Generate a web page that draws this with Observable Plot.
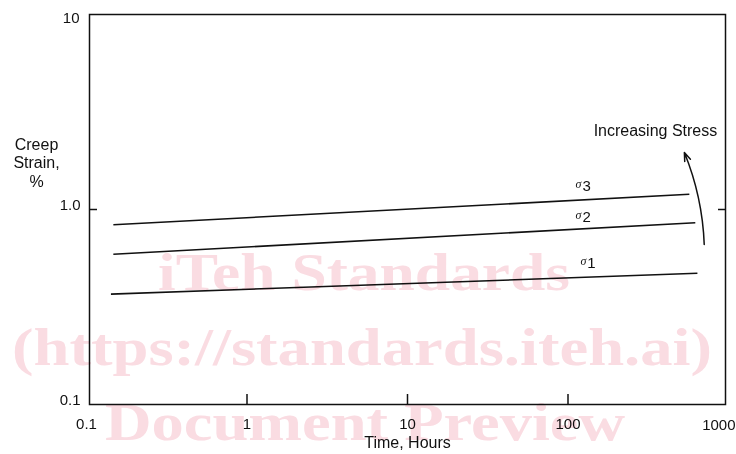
<!DOCTYPE html>
<html>
<head>
<meta charset="utf-8">
<script src="https://cdn.jsdelivr.net/npm/d3@7"></script>
<script src="https://cdn.jsdelivr.net/npm/@observablehq/plot@0.6"></script>
<style>
  html, body { margin: 0; padding: 0; background: #fff; }
  #wrap { position: relative; width: 736px; height: 454px; }
  #wrap svg { display: block; }
  #wm { position: absolute; left: 0; top: 0; pointer-events: none; mix-blend-mode: multiply; }
</style>
</head>
<body>
<div id="wrap"></div>
<script>
// ---- data ----
const seriesNames = ["σ1", "σ2", "σ3"];
const startTime = [0.142, 0.147, 0.147];      // hours
const endTime = [640, 621, 570];              // hours
const startStrain = [0.368, 0.590, 0.835];    // %
const endStrain = [0.471, 0.855, 1.198];      // %
const labelDigits = ["1", "2", "3"];
const labelTime = [132, 123, 123];
const labelStrain = [0.529, 0.91, 1.31];

const xTicks = [0.1, 1, 10, 100, 1000];
const xTickLabels = ["0.1", "1", "10", "100", "1000"];
const xInnerTicks = [1, 10, 100];
const yTicks = [0.1, 1, 10];
const yTickLabels = ["0.1", "1.0", "10"];
const yInnerTicks = [1];

const arrowTime = [706, 531];       // from, to
const arrowStrain = [0.662, 1.96];  // from, to
const noteText = ["Increasing Stress"];
const noteTime = [851];
const noteStrain = [2.54];

const xTitle = "Time, Hours";
const yTitle = "Creep\nStrain,\n%";

// ---- build tables ----
const segments = seriesNames.map((s, i) => ({
  series: s, x1: startTime[i], y1: startStrain[i], x2: endTime[i], y2: endStrain[i]
}));
const labels = seriesNames.map((s, i) => ({ digit: labelDigits[i], x: labelTime[i], y: labelStrain[i] }));
const arrows = [{ x1: arrowTime[0], y1: arrowStrain[0], x2: arrowTime[1], y2: arrowStrain[1] }];
const notes = noteText.map((t, i) => ({ t, x: noteTime[i], y: noteStrain[i] }));

const xFmt = d => xTickLabels[xTicks.indexOf(d)];
const yFmt = d => yTickLabels[yTicks.indexOf(d)];
const blank = () => "";
const ink = "#111";
const font = "'Liberation Sans', Arial, Helvetica, sans-serif";

const chart = Plot.plot({
  width: 736,
  height: 454,
  marginLeft: 86,
  marginRight: 8,
  marginTop: 14,
  marginBottom: 50,
  style: { fontFamily: font, fontSize: "15px", color: ink, background: "transparent" },
  x: { type: "log", domain: [0.1, 1000], label: null },
  y: { type: "log", domain: [0.1, 10], label: null },
  marks: [
    Plot.frame({ insetLeft: 3, insetRight: 3, stroke: ink, strokeWidth: 1.5 }),
    // tick labels
    Plot.axisX({ ticks: xTicks.slice(0, 4), tickFormat: xFmt, tickSize: 0, tickPadding: 14, fontSize: 15, label: null }),
    Plot.axisX({ ticks: xTicks.slice(4), tickFormat: xFmt, tickSize: 0, tickPadding: 15, fontSize: 15, textAnchor: "end", dx: 7, label: null }),
    Plot.axisY({ ticks: yTicks.slice(0, 2), tickFormat: yFmt, tickSize: 0, tickPadding: 6, dy: -4, fontSize: 15, label: null }),
    Plot.axisY({ ticks: yTicks.slice(2), tickFormat: yFmt, tickSize: 0, tickPadding: 7, dy: 4, fontSize: 15, label: null }),
    // inward ticks
    Plot.axisX({ ticks: xInnerTicks, tickFormat: blank, tickSize: -10, strokeWidth: 1.5, label: null }),
    Plot.axisY({ ticks: yInnerTicks, tickFormat: blank, tickSize: -8, dx: 3, strokeWidth: 1.5, label: null }),
    Plot.axisY({ anchor: "right", ticks: yInnerTicks, tickFormat: blank, tickSize: -8, dx: -3, strokeWidth: 1.5, label: null }),
    // creep curves
    Plot.link(segments, { x1: "x1", y1: "y1", x2: "x2", y2: "y2", stroke: ink, strokeWidth: 1.6 }),
    // sigma labels
    Plot.text(labels, { x: "x", y: "y", text: () => "σ", textAnchor: "end", dx: -1, dy: -2, fontSize: 12, fontStyle: "italic", fill: ink, fontFamily: "'Liberation Serif', serif" }),
    Plot.text(labels, { x: "x", y: "y", text: "digit", textAnchor: "start", fontSize: 15, fill: ink }),
    // increasing stress arrow + note
    Plot.arrow(arrows, { x1: "x1", y1: "y1", x2: "x2", y2: "y2", bend: -10, headLength: 9, headAngle: 40, stroke: ink, strokeWidth: 1.5 }),
    Plot.text(notes, { x: "x", y: "y", text: "t", textAnchor: "end", fontSize: 16, fill: ink, letterSpacing: "0.3px" }),
    // axis titles
    Plot.text([xTitle], { frameAnchor: "bottom", text: d => d, dy: 38, fontSize: 16, fill: ink, lineAnchor: "middle" }),
    Plot.text([yTitle], { frameAnchor: "left", text: d => d, dx: -50, dy: -47, textAnchor: "middle", fontSize: 16, lineHeight: 1.15, fill: ink, letterSpacing: "0.5px" })
  ]
});
document.getElementById("wrap").appendChild(chart);

// ---- scanned-document watermark text (as in the reference) ----
const watermark = ["iTeh Standards", "(https://standards.iteh.ai)", "Document Preview"];
const wmLeft = [158, 12, 105], wmWidth = [412, 700, 520], wmBase = [290, 365, 440];
const wm = d3.select("#wrap").append("svg").attr("id", "wm").attr("width", 736).attr("height", 454);
wm.selectAll("text").data(watermark).join("text")
  .attr("x", (d, i) => wmLeft[i])
  .attr("y", (d, i) => wmBase[i])
  .attr("textLength", (d, i) => wmWidth[i])
  .attr("lengthAdjust", "spacingAndGlyphs")
  .attr("font-family", "'Liberation Serif', 'Times New Roman', serif")
  .attr("font-weight", "bold")
  .attr("font-size", 52)
  .attr("fill", "#fadce2")
  .text(d => d);
</script>
</body>
</html>
